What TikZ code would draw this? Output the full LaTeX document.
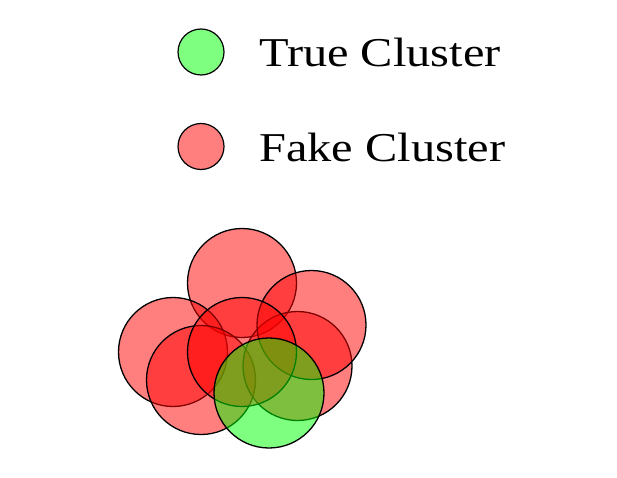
\documentclass[tikz,border=0pt]{standalone}
\usepackage{fontspec}
\setmainfont{Liberation Serif}
\begin{document}
\begin{tikzpicture}[x=1pt,y=-1pt,
  fakeball/.style={circle,draw=black,line width=1.3pt,fill=red,fill opacity=0.5,draw opacity=1,inner sep=0,minimum size=109pt},
  trueball/.style={circle,draw=black,line width=1.3pt,fill=green,fill opacity=0.5,draw opacity=1,inner sep=0,minimum size=110pt},
  legfake/.style={circle,draw=black,line width=1.2pt,fill=red,fill opacity=0.5,draw opacity=1,inner sep=0,minimum size=46pt},
  legtrue/.style={circle,draw=black,line width=1.2pt,fill=green,fill opacity=0.5,draw opacity=1,inner sep=0,minimum size=46pt},
  legtext/.style={anchor=base west,inner sep=0,font=\fontsize{41}{48}\selectfont}]
\useasboundingbox (0,0) rectangle (617,478);
% legend
\node[legtrue] (lt) at (201,52) {};
\node[legtext] (ltt) at (259,66.5) {\scalebox{1.18}[1]{True Cluster}};
\node[legfake] (lf) at (201,146.5) {};
\node[legtext] (lft) at (259,161.5) {\scalebox{1.18}[1]{Fake Cluster}};
% cluster
\node[fakeball] (c1) at (242,283) {};
\node[fakeball] (c2) at (173,352) {};
\node[fakeball] (c3) at (201,380) {};
\node[fakeball] (c6) at (297.5,366) {};
\node[fakeball] (c5) at (311.5,325) {};
\node[fakeball] (c4) at (242,352) {};
\node[trueball] (g) at (269,393) {};
\end{tikzpicture}
\end{document}
